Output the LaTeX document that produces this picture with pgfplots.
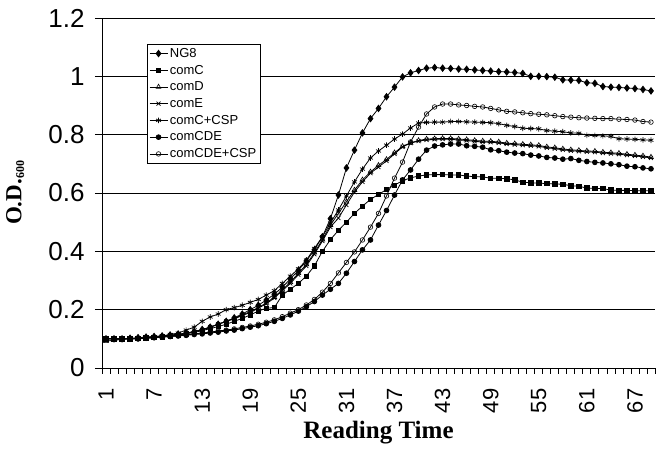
\documentclass[border=0pt]{standalone}
\usepackage{fontspec}
\setmainfont{Liberation Serif}
\setsansfont{Liberation Sans}
\usepackage{pgfplots}
\usepackage{pgfplotstable}
\pgfplotsset{compat=1.18}

% O.D.600 readings, one row per reading time
\pgfplotstableread{
t  ng8   comc  comd  come  ccsp  cde   cdecsp
1  0.100 0.100 0.092 0.095 0.100 0.100 0.100
2  0.100 0.100 0.095 0.097 0.100 0.100 0.100
3  0.100 0.100 0.098 0.100 0.100 0.100 0.100
4  0.102 0.100 0.100 0.100 0.101 0.100 0.100
5  0.104 0.101 0.102 0.101 0.102 0.100 0.100
6  0.106 0.103 0.104 0.103 0.105 0.102 0.102
7  0.108 0.105 0.106 0.105 0.108 0.104 0.104
8  0.110 0.107 0.108 0.108 0.110 0.106 0.106
9  0.113 0.110 0.111 0.110 0.115 0.108 0.108
10 0.116 0.113 0.114 0.113 0.120 0.110 0.110
11 0.120 0.117 0.119 0.118 0.130 0.112 0.113
12 0.125 0.122 0.125 0.125 0.140 0.115 0.117
13 0.132 0.128 0.131 0.130 0.160 0.117 0.120
14 0.140 0.135 0.140 0.140 0.175 0.120 0.123
15 0.150 0.142 0.150 0.150 0.185 0.123 0.127
16 0.160 0.150 0.160 0.160 0.200 0.127 0.130
17 0.172 0.160 0.170 0.168 0.207 0.130 0.134
18 0.185 0.170 0.182 0.180 0.215 0.135 0.139
19 0.200 0.182 0.193 0.190 0.225 0.140 0.144
20 0.215 0.195 0.207 0.205 0.235 0.145 0.150
21 0.233 0.205 0.223 0.220 0.250 0.152 0.157
22 0.253 0.207 0.243 0.240 0.265 0.160 0.165
23 0.277 0.250 0.268 0.265 0.290 0.170 0.176
24 0.305 0.270 0.294 0.290 0.315 0.182 0.188
25 0.335 0.290 0.325 0.320 0.340 0.195 0.200
26 0.367 0.315 0.355 0.350 0.370 0.210 0.216
27 0.405 0.350 0.395 0.390 0.410 0.228 0.235
28 0.450 0.400 0.440 0.435 0.450 0.250 0.260
29 0.512 0.440 0.490 0.483 0.497 0.270 0.290
30 0.593 0.472 0.530 0.514 0.542 0.290 0.326
31 0.686 0.500 0.570 0.559 0.590 0.325 0.362
32 0.747 0.530 0.610 0.603 0.638 0.365 0.398
33 0.806 0.555 0.645 0.638 0.682 0.405 0.439
34 0.855 0.578 0.672 0.668 0.720 0.439 0.483
35 0.890 0.595 0.695 0.689 0.744 0.490 0.530
36 0.930 0.612 0.715 0.710 0.764 0.540 0.590
37 0.963 0.627 0.738 0.734 0.785 0.593 0.651
38 0.998 0.642 0.760 0.758 0.802 0.645 0.706
39 1.012 0.652 0.772 0.771 0.823 0.679 0.775
40 1.020 0.658 0.780 0.778 0.840 0.716 0.826
41 1.028 0.662 0.785 0.782 0.842 0.747 0.871
42 1.030 0.663 0.786 0.784 0.843 0.761 0.895
43 1.028 0.663 0.787 0.785 0.843 0.765 0.905
44 1.027 0.662 0.787 0.784 0.845 0.768 0.905
45 1.025 0.662 0.785 0.782 0.845 0.768 0.902
46 1.024 0.658 0.783 0.780 0.844 0.762 0.900
47 1.022 0.656 0.780 0.777 0.843 0.760 0.897
48 1.020 0.655 0.778 0.775 0.842 0.757 0.895
49 1.018 0.651 0.777 0.774 0.841 0.748 0.890
50 1.016 0.650 0.775 0.772 0.838 0.745 0.885
51 1.015 0.649 0.771 0.768 0.832 0.740 0.880
52 1.013 0.645 0.769 0.766 0.828 0.737 0.878
53 1.010 0.637 0.767 0.764 0.822 0.735 0.875
54 1.000 0.635 0.765 0.762 0.821 0.730 0.872
55 1.000 0.634 0.763 0.760 0.820 0.727 0.870
56 0.999 0.632 0.758 0.755 0.814 0.722 0.868
57 0.997 0.631 0.755 0.752 0.812 0.720 0.865
58 0.988 0.630 0.751 0.748 0.810 0.716 0.862
59 0.987 0.625 0.748 0.745 0.806 0.718 0.860
60 0.986 0.623 0.746 0.743 0.805 0.712 0.858
61 0.978 0.617 0.744 0.741 0.798 0.708 0.857
62 0.976 0.616 0.743 0.740 0.797 0.705 0.856
63 0.965 0.615 0.740 0.737 0.796 0.703 0.855
64 0.963 0.610 0.738 0.735 0.794 0.700 0.855
65 0.962 0.609 0.736 0.733 0.786 0.697 0.853
66 0.960 0.609 0.733 0.730 0.785 0.692 0.852
67 0.958 0.608 0.730 0.727 0.784 0.690 0.850
68 0.955 0.608 0.727 0.724 0.782 0.686 0.845
69 0.950 0.607 0.723 0.720 0.781 0.683 0.843
}\growth

\begin{document}
\begin{tikzpicture}
\useasboundingbox (-102pt,-81pt) rectangle (563pt,368pt);
\begin{axis}[
  at={(0pt,0pt)}, anchor=south west,
  scale only axis, width=553pt, height=350pt,
  xmin=0.5, xmax=69.5, ymin=0, ymax=1.2,
  axis lines*=left, axis line style={black, line width=0.9pt},
  tick align=outside,
  xtick={1,7,...,67},
  xticklabels={1,7,13,19,25,31,37,43,49,55,61,67},
  minor xtick={0.5,1.5,...,69.5},
  major x tick style={draw=none},
  minor tick length=6pt, major tick length=7pt,
  tick style={black, line width=0.8pt},
  xticklabel shift=10pt,
  yticklabel shift=7pt,
  xticklabel style={rotate=90, anchor=east, font=\sffamily\fontsize{22}{22}\selectfont},
  ytick={0,0.2,0.4,0.6,0.8,1,1.2},
  yticklabels={0,0.2,0.4,0.6,0.8,1,1.2},
  yticklabel style={font=\sffamily\fontsize{26}{26}\selectfont},
  ymajorgrids, grid style={black, line width=0.9pt},
  xlabel={Reading Time},
  xlabel style={font=\bfseries\fontsize{25}{25}\selectfont, at={(axis description cs:0.5,-0.185)}, anchor=center},
  ylabel={O.D.\raisebox{-0.25ex}{\fontsize{12}{12}\selectfont 600}},
  ylabel style={font=\bfseries\fontsize{23}{23}\selectfont, at={(axis description cs:-0.157,0.5)}, anchor=center, rotate=0},
  legend style={at={(0.081,0.926)}, anchor=north west, draw=black, line width=0.7pt,
    fill=white, font=\sffamily\fontsize{13}{15}\selectfont, inner sep=2pt, row sep=2.2pt},
  legend cell align=left,
  legend image code/.code={\draw[mark repeat=2,mark phase=2,#1] plot coordinates {(0pt,0pt) (9pt,0pt) (18pt,0pt)};},
  every axis plot/.append style={black, line width=0.8pt},
]
\addplot[mark=diamond*, mark size=3.2pt] table[x=t, y=ng8] {\growth};
\addplot[mark=square*, mark size=2.2pt] table[x=t, y=comc] {\growth};
\addplot[mark=triangle, mark size=2.8pt, mark options={fill=white, line width=0.6pt}] table[x=t, y=comd] {\growth};
\addplot[mark=x, mark size=2.8pt, mark options={line width=0.7pt}] table[x=t, y=come] {\growth};
\addplot[mark=asterisk, mark size=2.8pt, mark options={line width=0.7pt}] table[x=t, y=ccsp] {\growth};
\addplot[mark=*, mark size=2.4pt] table[x=t, y=cde] {\growth};
\addplot[mark=o, mark size=2.3pt, mark options={fill=white, line width=0.6pt}] table[x=t, y=cdecsp] {\growth};
\legend{NG8, comC, comD, comE, comC+CSP, comCDE, comCDE+CSP}
\draw[gray, line width=0.8pt] (rel axis cs:1,0) -- (rel axis cs:1,1);
\end{axis}
\end{tikzpicture}
\end{document}
